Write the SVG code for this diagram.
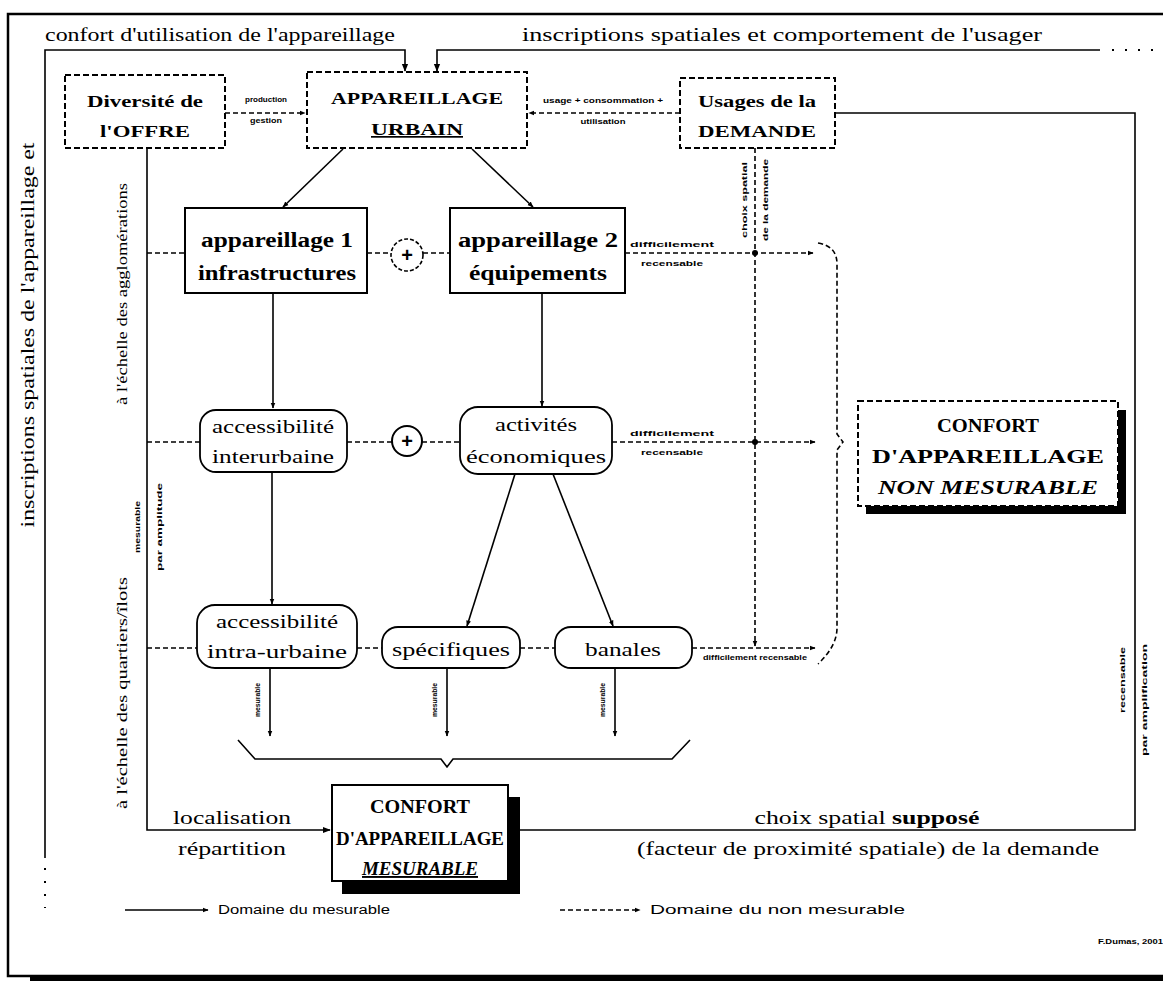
<svg xmlns="http://www.w3.org/2000/svg" width="1163" height="981" viewBox="0 0 1163 981">
<defs>
<marker id="ah" viewBox="0 0 10 10" refX="9" refY="5" markerWidth="8" markerHeight="8" orient="auto" markerUnits="userSpaceOnUse"><path d="M0,1 L10,5 L0,9 z" fill="#000"/></marker>
<marker id="ahs" viewBox="0 0 10 10" refX="9" refY="5" markerWidth="6" markerHeight="6" orient="auto" markerUnits="userSpaceOnUse"><path d="M0,1 L10,5 L0,9 z" fill="#000"/></marker>
</defs>
<style>
.t{font-family:"Liberation Serif","Times New Roman",serif;fill:#000}
.b{font-weight:bold}
.i{font-style:italic}
.s{font-family:"Liberation Sans",Arial,sans-serif;fill:#000}
.c{text-anchor:middle}
.ln{stroke:#000;stroke-width:1.6;fill:none}
.dl{stroke:#000;stroke-width:1.6;fill:none;stroke-dasharray:5,3}
.box{fill:#fff;stroke:#000;stroke-width:2}
.dbox{fill:#fff;stroke:#000;stroke-width:2;stroke-dasharray:6,3}
.rbox{fill:#fff;stroke:#000;stroke-width:1.8}
</style>

<g id="frame">
<path d="M1163,14 H8 V976 H1163" fill="none" stroke="#000" stroke-width="2.5"/>
<rect x="30" y="977" width="1133" height="4" fill="#000"/>
</g>

<g id="connectors">
<path class="ln" d="M45,858 V50 H405 V71" marker-end="url(#ah)"/>
<path class="ln" d="M1100,50 H437 V71" marker-end="url(#ah)"/>
<line x1="1112" y1="50" x2="1160" y2="50" stroke="#000" stroke-width="2" stroke-dasharray="2,11"/>
<line x1="45" y1="868" x2="45" y2="908" stroke="#000" stroke-width="2" stroke-dasharray="2,11"/>
<path class="ln" d="M835,113 H1135 V830 H520"/>
<path class="ln" d="M147,148 V830 H330" marker-end="url(#ah)"/>
<path class="dl" d="M225,113 H305" marker-end="url(#ahs)"/>
<path class="dl" d="M680,113 H529" marker-end="url(#ahs)"/>
<path class="ln" d="M343,149 L283,207" marker-end="url(#ahs)"/>
<path class="ln" d="M472,149 L533,207" marker-end="url(#ahs)"/>
<path class="dl" d="M147,253 H185 M367,253 H391 M423,253 H450"/>
<path class="dl" d="M625,253 H813" marker-end="url(#ahs)"/>
<path class="ln" d="M273,293 V408" marker-end="url(#ahs)"/>
<path class="ln" d="M542,293 V406" marker-end="url(#ahs)"/>
<path class="dl" d="M147,442 H200 M347,442 H392 M422,442 H460"/>
<path class="dl" d="M612,442 H815" marker-end="url(#ahs)"/>
<path class="dl" d="M147,648 H197 M357,648 H382 M520,648 H555"/>
<path class="dl" d="M692,648 H815" marker-end="url(#ahs)"/>
<path class="dl" d="M755,148 V646" marker-end="url(#ahs)"/>
<circle cx="755" cy="253" r="3" fill="#000"/>
<circle cx="755" cy="442" r="3" fill="#000"/>
<path class="ln" d="M272,472 V604" marker-end="url(#ahs)"/>
<path class="ln" d="M515,474 L467,626" marker-end="url(#ahs)"/>
<path class="ln" d="M553,474 L613,626" marker-end="url(#ahs)"/>
<path class="ln" d="M270,668 V736" stroke-width="2.2" marker-end="url(#ahs)"/>
<path class="ln" d="M447,668 V736" stroke-width="2.2" marker-end="url(#ahs)"/>
<path class="ln" d="M615,668 V736" stroke-width="2.2" marker-end="url(#ahs)"/>
<path class="ln" d="M238,740 L255,759 H441 L447,767 L453,759 H672 L690,740"/>
<path class="dl" d="M818,243 Q837,246 837,264 V434 L843,442 L837,450 V628 Q837,646 818,664"/>
<path class="ln" d="M125,910 H208" marker-end="url(#ahs)"/>
<path class="dl" d="M560,910 H640" marker-end="url(#ahs)"/>
</g>

<g id="labels">
<text class="t" x="45" y="41" font-size="18" textLength="350" lengthAdjust="spacingAndGlyphs">confort d'utilisation de l'appareillage</text>
<text class="t" x="522" y="41" font-size="18" textLength="520" lengthAdjust="spacingAndGlyphs">inscriptions spatiales et comportement de l'usager</text>
<text class="t c" transform="translate(34,335) rotate(-90)" font-size="18" textLength="385" lengthAdjust="spacingAndGlyphs">inscriptions spatiales de l'appareillage et</text>
<text class="t c" transform="translate(127,294) rotate(-90)" font-size="14" textLength="222" lengthAdjust="spacingAndGlyphs">à l'échelle des agglomérations</text>
<text class="t c" transform="translate(127,693) rotate(-90)" font-size="14" textLength="232" lengthAdjust="spacingAndGlyphs">à l'échelle des quartiers/îlots</text>
<text class="s b c" transform="translate(140,527) rotate(-90)" font-size="7" textLength="52" lengthAdjust="spacingAndGlyphs">mesurable</text>
<text class="s b c" transform="translate(162,527) rotate(-90)" font-size="7" textLength="88" lengthAdjust="spacingAndGlyphs">par amplitude</text>
<text class="s b c" x="266" y="102" font-size="8" textLength="42" lengthAdjust="spacingAndGlyphs">production</text>
<text class="s b c" x="266" y="123" font-size="8" textLength="32" lengthAdjust="spacingAndGlyphs">gestion</text>
<text class="s b c" x="603" y="103" font-size="8" textLength="120" lengthAdjust="spacingAndGlyphs">usage + consommation +</text>
<text class="s b c" x="603" y="124" font-size="8" textLength="45" lengthAdjust="spacingAndGlyphs">utilisation</text>
<text class="s b c" transform="translate(747,200) rotate(-90)" font-size="8" textLength="76" lengthAdjust="spacingAndGlyphs">choix spatial</text>
<text class="s b c" transform="translate(768,200) rotate(-90)" font-size="8" textLength="82" lengthAdjust="spacingAndGlyphs">de la demande</text>
<text class="s b c" x="672" y="247" font-size="8" textLength="84" lengthAdjust="spacingAndGlyphs">difficilement</text>
<text class="s b c" x="672" y="266" font-size="8" textLength="62" lengthAdjust="spacingAndGlyphs">recensable</text>
<text class="s b c" x="672" y="436" font-size="8" textLength="84" lengthAdjust="spacingAndGlyphs">difficilement</text>
<text class="s b c" x="672" y="455" font-size="8" textLength="62" lengthAdjust="spacingAndGlyphs">recensable</text>
<text class="s b c" x="755" y="660" font-size="7" textLength="104" lengthAdjust="spacingAndGlyphs">difficilement recensable</text>
<text class="s b c" transform="translate(260,700) rotate(-90)" font-size="7" textLength="34" lengthAdjust="spacingAndGlyphs">mesurable</text>
<text class="s b c" transform="translate(437,700) rotate(-90)" font-size="7" textLength="34" lengthAdjust="spacingAndGlyphs">mesurable</text>
<text class="s b c" transform="translate(605,700) rotate(-90)" font-size="7" textLength="34" lengthAdjust="spacingAndGlyphs">mesurable</text>
<text class="s b c" transform="translate(1125,680) rotate(-90)" font-size="8" textLength="66" lengthAdjust="spacingAndGlyphs">recensable</text>
<text class="s b c" transform="translate(1147,700) rotate(-90)" font-size="8" textLength="112" lengthAdjust="spacingAndGlyphs">par amplification</text>
<text class="t c" x="232" y="824" font-size="19" textLength="118" lengthAdjust="spacingAndGlyphs">localisation</text>
<text class="t c" x="232" y="855" font-size="19" textLength="108" lengthAdjust="spacingAndGlyphs">répartition</text>
<text class="t c" x="867" y="824" font-size="19" textLength="225" lengthAdjust="spacingAndGlyphs">choix spatial <tspan class="b">supposé</tspan></text>
<text class="t c" x="868" y="855" font-size="19" textLength="462" lengthAdjust="spacingAndGlyphs">(facteur de proximité spatiale) de la demande</text>
<text class="s" x="218" y="914" font-size="12" textLength="172" lengthAdjust="spacingAndGlyphs">Domaine du mesurable</text>
<text class="s" x="650" y="914" font-size="12" textLength="255" lengthAdjust="spacingAndGlyphs">Domaine du non mesurable</text>
<text class="s b" x="1098" y="944" font-size="8" textLength="65" lengthAdjust="spacingAndGlyphs">F.Dumas, 2001</text>
</g>

<g id="n-diversite">
<rect class="dbox" x="65" y="75" width="160" height="73"/>
<text class="t b c" x="145" y="107" font-size="17" textLength="116" lengthAdjust="spacingAndGlyphs">Diversité de</text>
<text class="t b c" x="145" y="137" font-size="17" textLength="90" lengthAdjust="spacingAndGlyphs">l'OFFRE</text>
</g>
<g id="n-appareillage">
<rect class="dbox" x="307" y="72" width="220" height="76"/>
<text class="t b c" x="417" y="104" font-size="17" textLength="172" lengthAdjust="spacingAndGlyphs">APPAREILLAGE</text>
<text class="t b c" x="417" y="135" font-size="17" textLength="92" lengthAdjust="spacingAndGlyphs" text-decoration="underline">URBAIN</text>
</g>
<g id="n-demande">
<rect class="dbox" x="680" y="78" width="155" height="70"/>
<text class="t b c" x="757" y="107" font-size="17" textLength="118" lengthAdjust="spacingAndGlyphs">Usages de la</text>
<text class="t b c" x="757" y="137" font-size="17" textLength="118" lengthAdjust="spacingAndGlyphs">DEMANDE</text>
</g>
<g id="n-app1">
<rect class="box" x="185" y="208" width="182" height="85"/>
<text class="t b c" x="277" y="247" font-size="20" textLength="152" lengthAdjust="spacingAndGlyphs">appareillage 1</text>
<text class="t b c" x="277" y="280" font-size="20" textLength="158" lengthAdjust="spacingAndGlyphs">infrastructures</text>
</g>
<g id="n-plus1">
<circle cx="407" cy="255" r="16" fill="#fff" stroke="#000" stroke-width="1.6" stroke-dasharray="4,2"/>
<text class="s b c" x="407" y="262" font-size="20">+</text>
</g>
<g id="n-app2">
<rect class="box" x="450" y="208" width="175" height="85"/>
<text class="t b c" x="538" y="247" font-size="20" textLength="160" lengthAdjust="spacingAndGlyphs">appareillage 2</text>
<text class="t b c" x="538" y="280" font-size="20" textLength="138" lengthAdjust="spacingAndGlyphs">équipements</text>
</g>
<g id="n-acc-inter">
<rect class="rbox" x="200" y="410" width="147" height="62" rx="16"/>
<text class="t c" x="273" y="433" font-size="18" textLength="122" lengthAdjust="spacingAndGlyphs">accessibilité</text>
<text class="t c" x="273" y="463" font-size="18" textLength="122" lengthAdjust="spacingAndGlyphs">interurbaine</text>
</g>
<g id="n-plus2">
<circle cx="407" cy="441" r="15" fill="#fff" stroke="#000" stroke-width="2"/>
<text class="s b c" x="407" y="448" font-size="20">+</text>
</g>
<g id="n-activites">
<rect class="rbox" x="460" y="407" width="152" height="67" rx="18"/>
<text class="t c" x="536" y="431" font-size="18" textLength="82" lengthAdjust="spacingAndGlyphs">activités</text>
<text class="t c" x="536" y="463" font-size="18" textLength="140" lengthAdjust="spacingAndGlyphs">économiques</text>
</g>
<g id="n-acc-intra">
<rect class="rbox" x="197" y="605" width="160" height="63" rx="18"/>
<text class="t c" x="277" y="628" font-size="18" textLength="122" lengthAdjust="spacingAndGlyphs">accessibilité</text>
<text class="t c" x="277" y="658" font-size="18" textLength="140" lengthAdjust="spacingAndGlyphs">intra-urbaine</text>
</g>
<g id="n-specifiques">
<rect class="rbox" x="382" y="627" width="138" height="41" rx="16"/>
<text class="t c" x="451" y="656" font-size="18" textLength="118" lengthAdjust="spacingAndGlyphs">spécifiques</text>
</g>
<g id="n-banales">
<rect class="rbox" x="555" y="627" width="137" height="41" rx="16"/>
<text class="t c" x="623" y="656" font-size="18" textLength="76" lengthAdjust="spacingAndGlyphs">banales</text>
</g>
<g id="n-confort-mesurable">
<rect x="342" y="797" width="178" height="97" fill="#000"/>
<rect class="box" x="332" y="785" width="176" height="96"/>
<text class="t b c" x="420" y="813" font-size="19" textLength="100" lengthAdjust="spacingAndGlyphs">CONFORT</text>
<text class="t b c" x="420" y="845" font-size="19" textLength="168" lengthAdjust="spacingAndGlyphs">D'APPAREILLAGE</text>
<text class="t b i c" x="420" y="875" font-size="19" textLength="116" lengthAdjust="spacingAndGlyphs" text-decoration="underline">MESURABLE</text>
</g>
<g id="n-confort-non-mesurable">
<rect x="866" y="410" width="260" height="104" fill="#000"/>
<rect class="dbox" x="858" y="401" width="260" height="105"/>
<text class="t b c" x="988" y="432" font-size="19" textLength="102" lengthAdjust="spacingAndGlyphs">CONFORT</text>
<text class="t b c" x="988" y="463" font-size="19" textLength="232" lengthAdjust="spacingAndGlyphs">D'APPAREILLAGE</text>
<text class="t b i c" x="988" y="494" font-size="19" textLength="220" lengthAdjust="spacingAndGlyphs">NON MESURABLE</text>
</g>
</svg>
